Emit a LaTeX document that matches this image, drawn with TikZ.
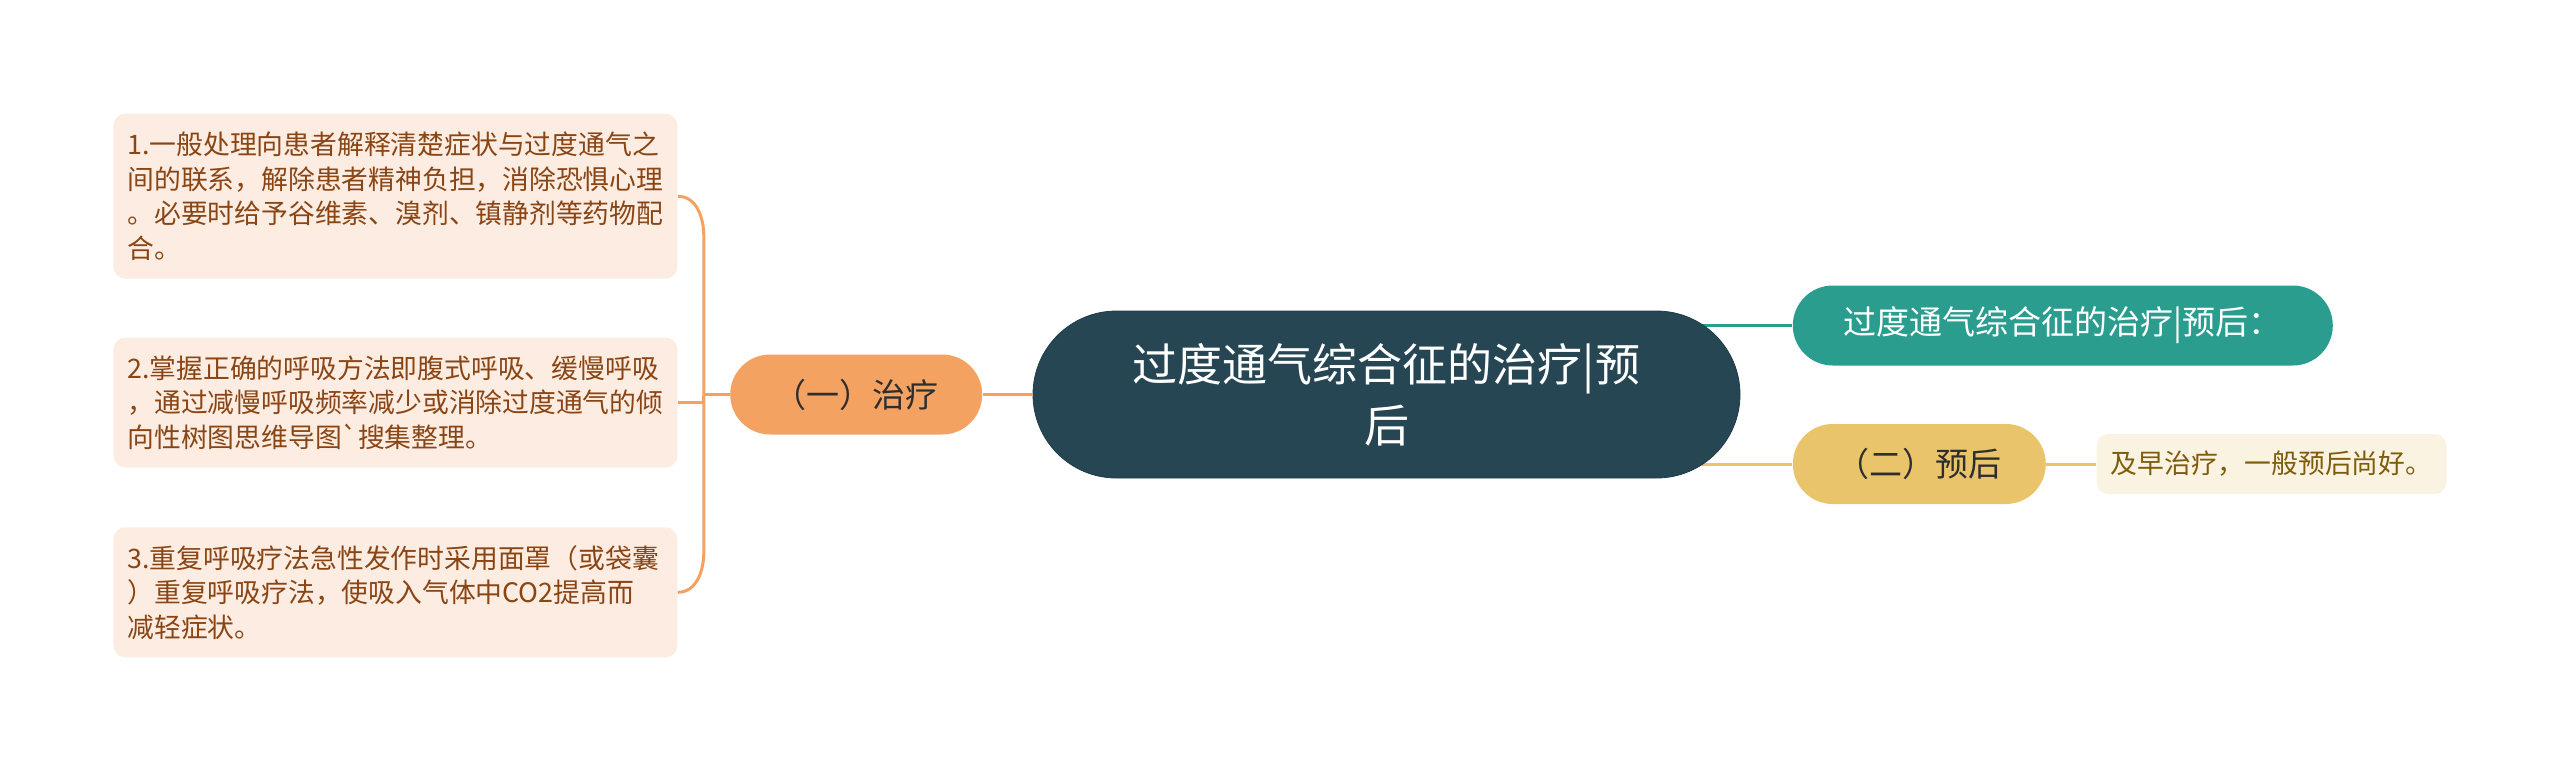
\documentclass[tikz,border=0pt]{standalone}
\usepackage{fontspec}
\setmainfont{Noto Sans CJK SC}
\newfontfamily\notocjk{Noto Sans CJK SC}
\usetikzlibrary{positioning,calc,backgrounds}
\definecolor{rootfill}{HTML}{264653}
\definecolor{sumfill}{HTML}{2A9D8F}
\definecolor{curefill}{HTML}{F4A261}
\definecolor{progfill}{HTML}{E9C46A}
\definecolor{curenote}{HTML}{FDECE1}
\definecolor{prognote}{HTML}{FBF3E2}
\definecolor{curetext}{HTML}{8A4514}
\definecolor{progtext}{HTML}{7F5C0C}
\definecolor{darktext}{HTML}{2E2E2E}
\tikzset{
  root/.style  = {fill=rootfill, draw=rootfill!85!black, text=white, rounded corners=41.75pt,
                  minimum width=353.5pt, minimum height=83.5pt, align=center, inner sep=0pt,
                  font=\fontsize{22.5}{30.5}\selectfont},
  topic/.style = {rounded corners=20pt, minimum height=40pt, inner sep=0pt,
                  font=\fontsize{16.5}{20}\selectfont},
  note/.style  = {rounded corners=6pt, align=left, inner xsep=7pt, inner ysep=0pt,
                  font=\fontsize{13.4}{17.25}\selectfont},
  link/.style  = {line width=1.5pt}
}
\begin{document}
\begin{tikzpicture}[x=0.5pt, y=-0.5pt]
  \useasboundingbox (0,0) rectangle (2560,773);
  \node[root] (root) at (1386.5,394.5) {过度通气综合征的治疗|预\\后};
  \node[topic, fill=curefill, text=darktext, minimum width=126pt] (cure) [left=25pt of root] {（一）治疗};
  \node[note, fill=curenote, text=curetext, text width=268pt, minimum height=65pt] (c2) [left=26pt of cure, yshift=-4pt]
    {2.掌握正确的呼吸方法即腹式呼吸、缓慢呼吸\\，通过减慢呼吸频率减少或消除过度通气的倾\\向性树图思维导图{\notocjk`}搜集整理。};
  \node[note, fill=curenote, text=curetext, text width=268pt, minimum height=82.5pt] (c1) [above=29pt of c2]
    {1.一般处理向患者解释清楚症状与过度通气之\\间的联系，解除患者精神负担，消除恐惧心理\\。必要时给予谷维素、溴剂、镇静剂等药物配\\合。};
  \node[note, fill=curenote, text=curetext, text width=268pt, minimum height=65pt] (c3) [below=29.5pt of c2]
    {3.重复呼吸疗法急性发作时采用面罩（或袋囊\\）重复呼吸疗法，使吸入气体中CO2提高而\\减轻症状。};
  \node[topic, fill=sumfill, text=white, minimum width=270pt] (sum) [right=26pt of root, yshift=34.5pt] {过度通气综合征的治疗|预后：};
  \node[topic, fill=progfill, text=darktext, minimum width=126.5pt] (prog) [right=26pt of root, yshift=-34.75pt] {（二）预后};
  \node[note, fill=prognote, text=progtext, text width=161pt, minimum height=30pt] (p1) [right=25pt of prog] {及早治疗，一般预后尚好。};
  \begin{scope}[on background layer]
    \draw[link, sumfill] (root.center |- sum.west) -- (sum.west);
    \draw[link, progfill] (root.center |- prog.west) -- (prog.west);
  \end{scope}
  \draw[link, progfill] (prog.east) -- (p1.west);
  \draw[link, curefill] (root.west) -- (cure.east);
  \draw[link, curefill] (cure.west) -- ++(-13pt,0) coordinate (fork);
  \draw[link, curefill] (fork) |- (c2.east);
  \draw[link, curefill] (fork) -- ($(fork |- c1.east)+(0,-20pt)$) to[out=90, in=0] (c1.east);
  \draw[link, curefill] (fork) -- ($(fork |- c3.east)+(0,20pt)$) to[out=-90, in=0] (c3.east);
\end{tikzpicture}
\end{document}
